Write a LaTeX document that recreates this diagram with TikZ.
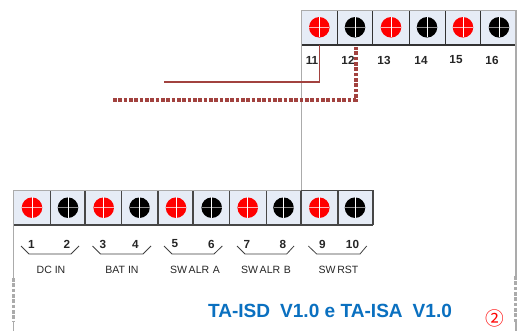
\documentclass[tikz,border=0pt]{standalone}
\usepackage{fontspec}
\setmainfont{Liberation Sans}
\newfontfamily\cjkf{Noto Sans CJK SC}
\definecolor{boxfill}{HTML}{E6ECF6}
\definecolor{edgegrey}{HTML}{ABABAB}
\definecolor{wirered}{HTML}{A2423F}
\definecolor{titleblue}{HTML}{0A70C0}
\tikzset{
  x=0.75pt,y=-0.75pt,
  holered/.style={circle,fill=red,draw=none,inner sep=0pt,minimum size=15.4pt},
  holeblack/.style={circle,fill=black,draw=none,inner sep=0pt,minimum size=15.4pt},
  frameline/.style={draw=edgegrey,line width=1.4pt},
  framedots/.style={draw=edgegrey,line width=2.4pt,dash pattern=on 2.8pt off 1.2pt},
  pinlabel/.style={font=\fontsize{8.8}{10}\selectfont\bfseries,text=black!85,inner sep=0pt},
  grouplabel/.style={font=\fontsize{7.9}{9}\selectfont,text=black!85,inner sep=0pt},
  bracketline/.style={draw=black!75,line width=0.6pt},
  wiresolid/.style={draw=wirered,line width=1.4pt},
  wiredots/.style={draw=wirered,line width=2.5pt,dash pattern=on 2.7pt off 1.3pt}
}
\newcommand{\crossmark}[3]{% x, y, line colour
  \draw[#3,line width=0.7pt] (#1-10,#2) -- (#1+10,#2);
  \draw[white,line width=0.7pt] (#1,#2-10.2) -- (#1,#2+10.2);
}
\begin{document}
\begin{tikzpicture}
\useasboundingbox (0,0) rectangle (517,331);
\fill[white] (0,0) rectangle (517,331);
% frame
\draw[frameline] (301.5,190.5) -- (301.5,10.5) -- (516,10.5) -- (516,276);
\draw[framedots] (516,276) -- (516,322);
\draw[frameline] (516,322) -- (516,331);
\draw[frameline] (301.5,190.5) -- (13.5,190.5) -- (13.5,278);
\draw[framedots] (13.5,278) -- (13.5,322);
\draw[frameline] (13.5,322) -- (13.5,331);
% top terminal cells
\foreach \l/\r/\cx/\col/\nm in {302/337.5/319.3/red/11,337.5/372.8/355/black/12,372.8/409.3/391/red/13,409.3/445.5/427/black/14,445.5/480.5/463/red/15,480.5/515.3/499/black/16}{
  \path[fill=boxfill] (\l,11.2) rectangle (\r,45);
  \draw[black!80,line width=1pt] (\l,45) -- (\r,45);
  \ifnum\nm>11 \draw[black!80,line width=1pt] (\l,11) -- (\l,45);\fi
  \node[hole\col] (h\nm) at (\cx,27.3) {};
}
\foreach \cx/\col in {319.3/red!30!white,355/black!45,391/red!30!white,427/black!45,463/red!30!white,499/black!45}{\crossmark{\cx}{27.3}{\col}}
% bottom terminal cells
\foreach \l/\r/\cx/\col/\nm in {14.2/50.3/32/red/1,50.3/85/68/black/2,85/121.7/103.7/red/3,121.7/158/139.5/black/4,158/193/176/red/5,193/229.3/211.7/black/6,229.3/266.3/247.7/red/7,266.3/301/283.5/black/8,301/338/319.3/red/9,338/373/355/black/10}{
  \path[fill=boxfill] (\l,191) rectangle (\r,225);
  \draw[black!72,line width=1pt] (\l,225) -- (\r,225);
  \ifnum\nm>1 \draw[black!72,line width=1pt] (\l,191) -- (\l,225);\fi
  \node[hole\col] (h\nm) at (\cx,207.7) {};
}
\draw[black!72,line width=1pt] (301,190.5) -- (373,190.5) -- (373,225);
\foreach \cx/\col in {32/red!30!white,68/black!45,103.7/red!30!white,139.5/black!45,176/red!30!white,211.7/black!45,247.7/red!30!white,283.5/black!45,319.3/red!30!white,355/black!45}{\crossmark{\cx}{207.7}{\col}}
% pin labels
\foreach \t/\x in {11/312,12/348,13/384,14/421,15/456,16/492}{\node[pinlabel] (p\t) at (\x,60) {\t};}
\foreach \t/\x in {1/31.5,2/67,3/103,4/135.5,5/175,6/211.5,7/247,8/283,9/322.5,10/352.5}{\node[pinlabel] (p\t) at (\x,244) {\t};}
% brackets
\draw[bracketline] (21,246) -- (29,254) -- (71,254) -- (79,246);
\draw[bracketline] (92.5,246) -- (100.5,254) -- (143,254) -- (151,246);
\draw[bracketline] (164,246) -- (172,254) -- (214,254) -- (222.3,246);
\draw[bracketline] (237,246) -- (245,254) -- (286.7,254) -- (294,246);
\draw[bracketline] (308.3,246) -- (316.7,254) -- (360,254) -- (366.7,246);
% group labels
\node[grouplabel] (g1) at (51,269.5) {DC IN};
\node[grouplabel] (g2) at (122,269.5) {BAT IN};
\node[grouplabel] (g3) at (195,269.5) {SW\hspace{-1pt} ALR\hspace{0.5pt} A};
\node[grouplabel] (g4) at (266,269.5) {SW\hspace{-1pt} ALR\hspace{0.5pt} B};
\node[grouplabel] (g5) at (338.5,269.5) {SW\hspace{-1pt} RST};
% wires
\coordinate (w1) at (164,82);
\coordinate (w2) at (113,100);
\coordinate (t11) at (319.5,45);
\coordinate (t12) at (356,47);
\draw[wiresolid] (w1) -| (t11);
\draw[wiredots] (w2) -| (t12);
% title
\node[font=\fontsize{14.3}{16}\selectfont\bfseries,text=titleblue,inner sep=0pt] (title) at (330,311) {TA-ISD\hspace{3.5pt} V1.0 e TA-ISA\hspace{3.5pt} V1.0};
\node[font=\cjkf\fontsize{14}{16}\selectfont,text=red,inner sep=0pt] (mark) at (495,318.5) {②};
\end{tikzpicture}
\end{document}
